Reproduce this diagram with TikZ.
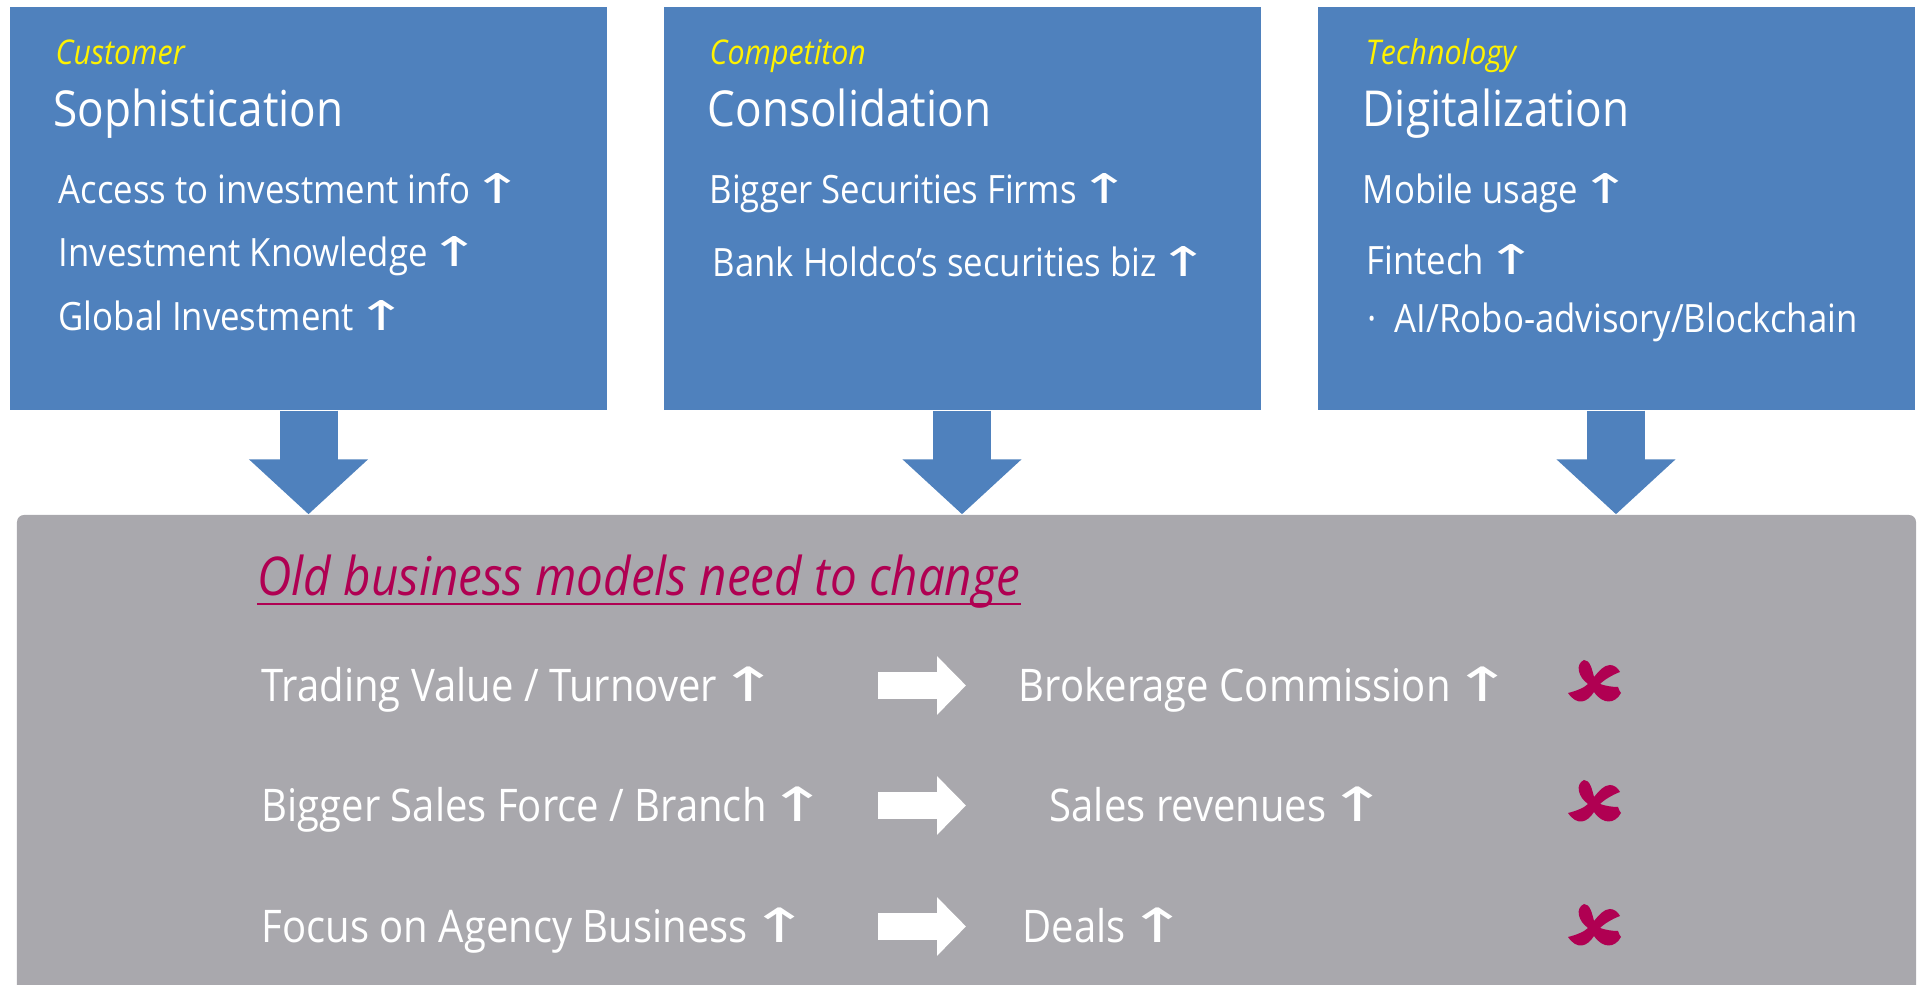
\documentclass[tikz,border=0pt]{standalone}
\usepackage{graphicx}
\usepackage{fontspec}
\setmainfont{Open Sans}[FakeStretch=0.89]
\newfontfamily\dejavu{DejaVu Sans}
\usetikzlibrary{arrows.meta}

\definecolor{panelblue}{RGB}{79,129,189}
\definecolor{panelgrey}{RGB}{169,168,173}
\definecolor{crimson}{RGB}{176,0,82}
\newcommand{\uparr}{\kern-0.2em{\dejavu\scalebox{1.6}[1.05]{↑}}}

\begin{document}
\begin{tikzpicture}[
    panel/.style={fill=panelblue, minimum width=5.97cm, minimum height=4.03cm},
    tag/.style={anchor=base west, inner sep=0pt, text=yellow, font=\fontsize{9.7}{11}\selectfont\itshape},
    head/.style={anchor=base west, inner sep=0pt, text=white, font=\fontsize{14.1}{16}\selectfont},
    item/.style={anchor=base west, inner sep=0pt, text=white, font=\fontsize{11.1}{13}\selectfont},
    row/.style={anchor=base west, inner sep=0pt, text=white, font=\fontsize{12.8}{15}\selectfont},
    down/.style={panelblue, line width=0.58cm, -{Triangle[length=0.55cm, width=1.16cm]}},
    lead/.style={white, line width=0.27cm, -{Triangle[length=0.29cm, width=0.57cm]}},
    nomark/.pic={
        \fill[crimson] (-0.09,0.23)
            .. controls (-0.03,0.23) and (-0.01,0.14) .. (0.01,0.06)
            .. controls (0.06,0.12) and (0.11,0.18) .. (0.17,0.18)
            .. controls (0.21,0.18) and (0.25,0.15) .. (0.27,0.11)
            .. controls (0.19,0.08) and (0.11,0.03) .. (0.07,-0.01)
            .. controls (0.13,-0.03) and (0.19,-0.04) .. (0.25,-0.04)
            .. controls (0.26,-0.07) and (0.27,-0.09) .. (0.28,-0.10)
            .. controls (0.22,-0.21) and (0.10,-0.22) .. (0.01,-0.09)
            .. controls (-0.06,-0.20) and (-0.16,-0.23) .. (-0.25,-0.10)
            .. controls (-0.17,-0.08) and (-0.09,-0.05) .. (-0.05,-0.01)
            .. controls (-0.15,0.06) and (-0.18,0.19) .. (-0.09,0.23)
            -- cycle;
    }
]
\useasboundingbox (0,0) rectangle (19.19,9.85);

\node[panel] (cust) at (3.085,7.765) {};
\node[panel] (comp) at (9.62,7.765) {};
\node[panel] (tech) at (16.16,7.765) {};
\node[fill=panelgrey, rounded corners=2pt, minimum width=18.99cm, minimum height=4.8cm] (model) at (9.665,2.30) {};

\draw[down] (cust.south) -- (cust.south |- model.north);
\draw[down] (comp.south) -- (comp.south |- model.north);
\draw[down] (tech.south) -- (tech.south |- model.north);

\node[tag] (custtag) at (0.55,9.20) {Customer};
\node[head] (custhead) at (0.53,8.58) {Sophistication};
\node[item] (access) at (0.58,7.81) {Access to investment info \uparr};
\node[item] (knowledge) at (0.58,7.18) {Investment Knowledge \uparr};
\node[item] (global) at (0.58,6.54) {Global Investment \uparr};

\node[tag] (comptag) at (7.09,9.20) {Competiton};
\node[head] (comphead) at (7.07,8.58) {Consolidation};
\node[item] (firms) at (7.09,7.81) {Bigger Securities Firms \uparr};
\node[item] (holdco) at (7.12,7.08) {Bank Holdco’s securities biz \uparr};

\node[tag] (techtag) at (13.65,9.20) {Technology};
\node[head] (techhead) at (13.62,8.58) {Digitalization};
\node[item] (mobile) at (13.62,7.81) {Mobile usage \uparr};
\node[item] (fintech) at (13.66,7.10) {Fintech \uparr};
\node[item] (ai) at (13.67,6.52) {·\ \ AI/Robo-advisory/Blockchain};

\node[anchor=base west, inner sep=0pt, text=crimson, font=\fontsize{15.2}{18}\selectfont\itshape] (title) at (2.57,3.89) {Old business models need to change};
\draw[crimson, line width=0.02cm] ([yshift=-0.08cm]title.base west) -- ([yshift=-0.08cm]title.base east);

\node[row] (trading) at (2.61,2.83) {Trading Value / Turnover \uparr};
\node[row] (brokerage) at (10.18,2.83) {Brokerage Commission \uparr};
\node[row] (sales) at (2.61,1.63) {Bigger Sales Force / Branch \uparr};
\node[row] (revenue) at (10.49,1.63) {Sales revenues \uparr};
\node[row] (agency) at (2.61,0.42) {Focus on Agency Business \uparr};
\node[row] (deals) at (10.22,0.42) {Deals \uparr};

\coordinate (tradingout) at (8.78,2.995);
\coordinate (brokeragein) at (9.66,2.995);
\coordinate (salesout) at (8.78,1.795);
\coordinate (revenuein) at (9.66,1.795);
\coordinate (agencyout) at (8.78,0.585);
\coordinate (dealsin) at (9.66,0.585);
\draw[lead] (tradingout) -- (brokeragein);
\draw[lead] (salesout) -- (revenuein);
\draw[lead] (agencyout) -- (dealsin);

\pic at (15.93,3.02) {nomark};
\pic at (15.93,1.82) {nomark};
\pic at (15.93,0.58) {nomark};
\end{tikzpicture}
\end{document}
